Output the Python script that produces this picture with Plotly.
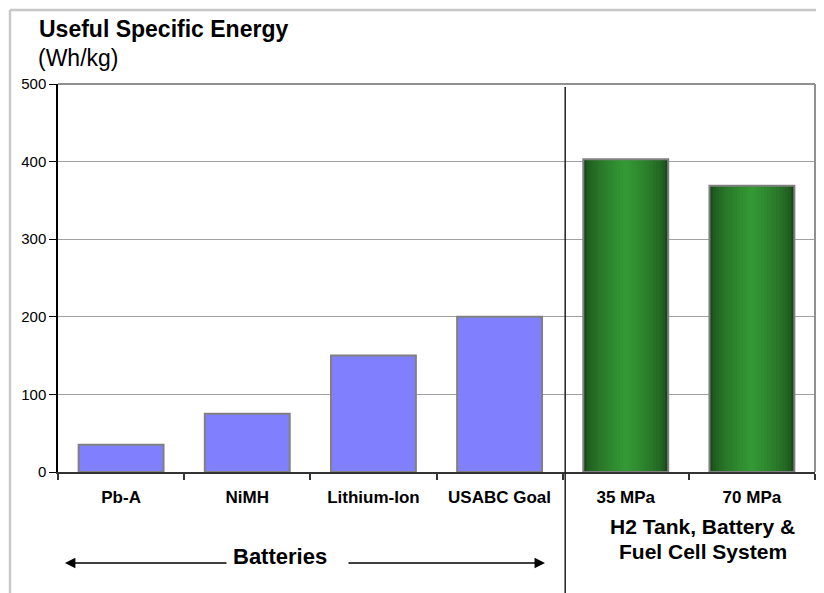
import plotly.graph_objects as go

# ---- data ----
battery_labels = ["Pb-A", "NiMH", "Lithium-Ion", "USABC Goal"]
battery_values = [35, 75, 150, 200]
h2_labels = ["35 MPa", "70 MPa"]
h2_values = [403, 369]
y_ticks = [0, 100, 200, 300, 400, 500]

FONT = "Liberation Sans, Arial, sans-serif"
BAR_W = 0.673
OUTLINE = "#808080"

fig = go.Figure()

# blue battery bars
fig.add_trace(go.Bar(
    x=battery_labels, y=battery_values, width=BAR_W,
    marker=dict(color="#8080ff", line=dict(color=OUTLINE, width=2)),
    showlegend=False, hoverinfo="x+y"))

# green gradient bars: stacked overlays of narrowing widths
N = 14
dark = (26, 72, 26)
light = (52, 152, 52)
for k in range(N):
    frac = 1 - k / N
    t = (k / (N - 1)) ** 0.55
    col = tuple(int(dark[i] + (light[i] - dark[i]) * t) for i in range(3))
    fig.add_trace(go.Bar(
        x=h2_labels, y=h2_values, width=BAR_W * frac,
        marker=dict(color="rgb(%d,%d,%d)" % col, line=dict(width=0)),
        showlegend=False, hoverinfo="skip"))
# outline for green bars
fig.add_trace(go.Bar(
    x=h2_labels, y=h2_values, width=BAR_W,
    marker=dict(color="rgba(0,0,0,0)", line=dict(color=OUTLINE, width=2)),
    showlegend=False, hoverinfo="x+y"))

cats = battery_labels + h2_labels

fig.update_layout(
    width=816, height=585,
    margin=dict(l=50, r=9, t=76, b=121),
    paper_bgcolor="white", plot_bgcolor="white",
    barmode="overlay",
    font=dict(family=FONT, color="black"),
    xaxis=dict(
        type="category", categoryorder="array", categoryarray=cats,
        range=[-0.5, 5.5],
        showline=True, linecolor="#333333", linewidth=2,
        ticks="outside", tickson="boundaries", ticklen=6, tickwidth=1.5,
        tickcolor="#333333",
        tickfont=dict(family=FONT, size=17, color="black", weight="bold"),
        ticklabelstandoff=9,
        showgrid=False, zeroline=False, fixedrange=True),
    yaxis=dict(
        range=[0, 500], tickvals=y_ticks,
        showline=True, linecolor="black", linewidth=1.5,
        ticks="outside", ticklen=7, tickwidth=1, tickcolor="black",
        tickfont=dict(family=FONT, size=15, color="black"),
        showgrid=True, gridcolor="#a0a0a0", gridwidth=1,
        zeroline=False, fixedrange=True),
)

annotations = [
    dict(text="<b>Useful Specific Energy</b>", x=-0.0277, y=1.143,
         xref="paper", yref="paper", xanchor="left", yanchor="middle",
         showarrow=False, font=dict(family=FONT, size=23, color="black")),
    dict(text="(Wh/kg)", x=-0.029, y=1.067,
         xref="paper", yref="paper", xanchor="left", yanchor="middle",
         showarrow=False, font=dict(family=FONT, size=23, color="black")),
    dict(text="<b>Batteries</b>", x=0.293, y=-0.219,
         xref="paper", yref="paper", xanchor="center", yanchor="middle",
         showarrow=False, font=dict(family=FONT, size=22, color="black")),
    dict(text="<b>H2 Tank, Battery &</b>", x=0.852, y=-0.140,
         xref="paper", yref="paper", xanchor="center", yanchor="middle",
         showarrow=False, font=dict(family=FONT, size=21, color="black")),
    dict(text="<b>Fuel Cell System</b>", x=0.852, y=-0.204,
         xref="paper", yref="paper", xanchor="center", yanchor="middle",
         showarrow=False, font=dict(family=FONT, size=21, color="black")),
    # arrows
    dict(text="", x=0.0092, y=-0.2345, xref="paper", yref="paper",
         ax=163, ay=0, showarrow=True, arrowhead=2, arrowsize=1.3,
         arrowwidth=1.6, arrowcolor="black"),
    dict(text="", x=0.6433, y=-0.2345, xref="paper", yref="paper",
         ax=-198, ay=0, showarrow=True, arrowhead=2, arrowsize=1.3,
         arrowwidth=1.6, arrowcolor="black"),
]
fig.update_layout(annotations=annotations)

shapes = [
    # plot frame top and right (gray)
    dict(type="line", xref="paper", yref="paper", x0=0, x1=1, y0=1, y1=1,
         line=dict(color="#909090", width=2)),
    dict(type="line", xref="paper", yref="paper", x0=1, x1=1, y0=0, y1=1,
         line=dict(color="#909090", width=2)),
    # separator line
    dict(type="line", xref="x", yref="paper", x0=3.52, x1=3.52,
         y0=-0.32, y1=0.992, line=dict(color="#222222", width=1.5)),
    # outer image frame (top and left)
    dict(type="line", xref="paper", yref="paper", x0=-0.0634, x1=1.02,
         y0=1.191, y1=1.191, line=dict(color="#c8c8c8", width=2.5)),
    dict(type="line", xref="paper", yref="paper", x0=-0.0634, x1=-0.0634,
         y0=-0.32, y1=1.191, line=dict(color="#c8c8c8", width=2.5)),
]
fig.update_layout(shapes=shapes)

fig.write_html("out.html")
